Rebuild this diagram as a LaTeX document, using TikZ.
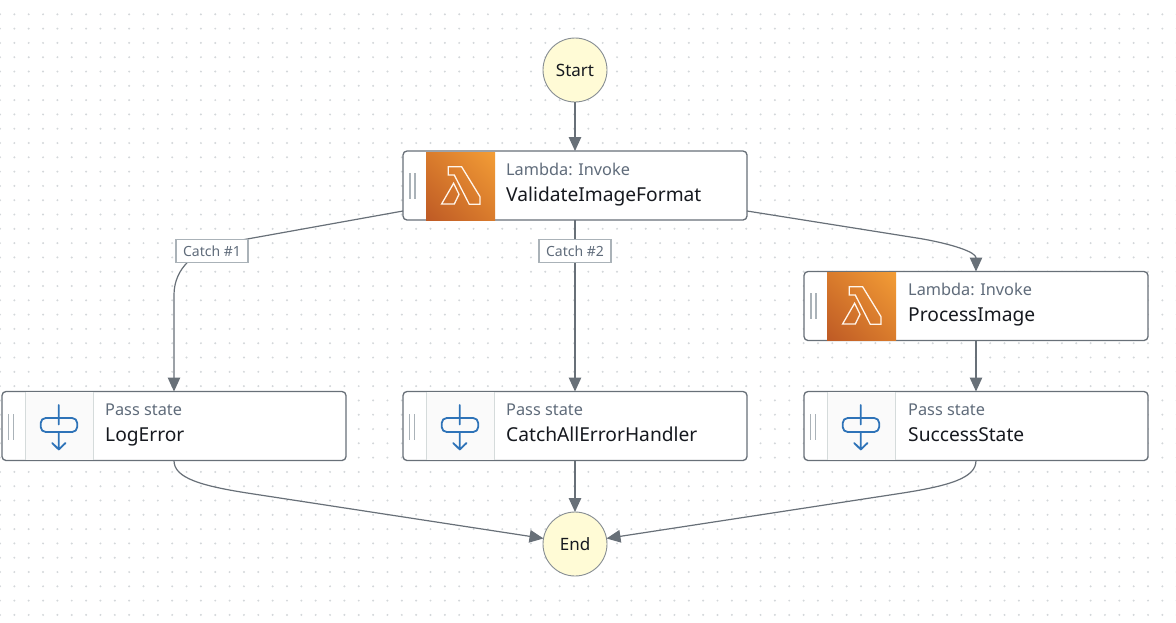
\documentclass[tikz,border=0pt]{standalone}
\usepackage{fontspec}
\setmainfont{Noto Sans}
\usetikzlibrary{arrows.meta,shadings}
\definecolor{edgegrey}{HTML}{687078}
\definecolor{dotgrey}{HTML}{D3D7DA}
\definecolor{barcol}{HTML}{AAB2B8}
\definecolor{startfill}{HTML}{FFFBD6}
\definecolor{subtxt}{HTML}{5F6B7A}
\definecolor{maintxt}{HTML}{16191F}
\definecolor{tileline}{HTML}{D5DBDB}
\definecolor{tilefill}{HTML}{FAFAFA}
\definecolor{passblue}{HTML}{2E73B8}
\definecolor{lamdark}{HTML}{BE5A25}
\definecolor{lamlight}{HTML}{F39D36}
\definecolor{lammid}{HTML}{D97B2C}
\tikzset{
  statebox/.style={draw=edgegrey,line width=1.3pt,rounded corners=4pt,fill=white,minimum width=344pt,minimum height=69pt,inner sep=0pt,outer sep=0pt},
  terminal/.style={circle,draw=edgegrey!80,line width=0.9pt,fill=startfill,minimum size=64pt,inner sep=0pt,outer sep=0pt,font=\fontsize{17}{19}\selectfont,text=maintxt},
  flow/.style={draw=edgegrey,line width=1.2pt,-{Triangle[length=14pt,width=12.5pt]}},
  catchlabel/.style={draw=barcol,line width=1.5pt,fill=white,minimum width=72pt,minimum height=23pt,inner sep=0pt,outer sep=0pt,font=\fontsize{14}{16}\selectfont,text=subtxt},
  subtext/.style={anchor=base west,inner sep=0pt,font=\fontsize{16.3}{18}\selectfont,text=subtxt},
  maintext/.style={anchor=base west,inner sep=0pt,font=\fontsize{19.2}{21}\selectfont,text=maintxt},
  handlebar/.style={draw=barcol,line width=1.3pt},
  lamicon/.style={draw=white!92!orange,line width=1.3pt,line join=miter},
  passicon/.style={draw=passblue,line width=1.8pt,line cap=round,line join=round}
}
\newcommand{\lambdatile}[2]{% left edge of box, top edge of box
  \begin{scope}[shift={(#1,#2)}]
    \draw[handlebar] (7,22)--(7,48) (12,22)--(12,48);
    \shade[lower left=lamdark,upper right=lamlight,upper left=lammid,lower right=lammid] (23,1) rectangle (92,69);
    \draw[lamicon] (45.3,15.7)--(58.6,15.7)--(77,45.7)--(77,53.3)--(66.3,53.3)--(51.3,24)--(45.3,24)--cycle;
    \draw[lamicon] (38.6,53)--(50.6,32.3)--(56,43.3)--(51.3,53)--cycle;
  \end{scope}}
\newcommand{\passtile}[2]{%
  \begin{scope}[shift={(#1,#2)}]
    \draw[handlebar] (6.5,23)--(6.5,49) (11.5,23)--(11.5,49);
    \fill[tilefill] (23,1) rectangle (91,69);
    \draw[tileline,line width=1pt] (23,1)--(23,69) (91,1)--(91,69);
    \draw[passicon,rounded corners=5pt] (38.7,27) rectangle (75.2,41);
    \draw[passicon] (56.8,14)--(56.8,33.5) (56.8,41)--(56.8,58.5) (50.2,52)--(56.8,58.5)--(63.5,52);
  \end{scope}}
\begin{document}
\begin{tikzpicture}[x=1pt,y=-1pt]
\useasboundingbox (0,0) rectangle (1176,622);
\fill[white] (0,0) rectangle (1176,622);
\foreach \i in {0,...,82}{\foreach \j in {1,...,43}{\fill[dotgrey] ({\i*14.35},{\j*14.3}) circle (1.1pt);}}

\node[terminal] (start) at (575,70) {Start};
\node[terminal] (end) at (575,544) {End};
\node[statebox] (val) at (575,185.5) {};
\node[statebox] (proc) at (976,306) {};
\node[statebox] (log) at (174,426) {};
\node[statebox] (catchall) at (575,426) {};
\node[statebox] (succ) at (976,426) {};

\lambdatile{403}{151}
\lambdatile{804}{271}
\passtile{2}{391}
\passtile{403}{391}
\passtile{804}{391}

\node[subtext] (t1a) at (506,175.4) {Lambda: Invoke};
\node[maintext] (t1b) at (506,201.8) {ValidateImageFormat};
\node[subtext] (t2a) at (908,295.4) {Lambda: Invoke};
\node[maintext] (t2b) at (908,321.8) {ProcessImage};
\node[subtext] (t3a) at (105,415.4) {Pass state};
\node[maintext] (t3b) at (105,441.8) {LogError};
\node[subtext] (t4a) at (506,415.4) {Pass state};
\node[maintext] (t4b) at (506,441.8) {CatchAllErrorHandler};
\node[subtext] (t5a) at (908,415.4) {Pass state};
\node[maintext] (t5b) at (908,441.8) {SuccessState};

\coordinate (valL) at (403,211);
\coordinate (valR) at (747,211);

\draw[flow] (start) -- (val.north);
\draw[flow] (valL) -- (225,243) .. controls (195,250) and (174,268) .. (174,295) -- (log.north);
\draw[flow] (val.south) -- (catchall.north);
\draw[flow] (valR) -- (920,238.5) .. controls (952,244) and (976,252) .. (proc.north);
\draw[flow] (proc.south) -- (succ.north);
\draw[flow] (catchall.south) -- (end.north);
\draw[flow] (log.south) .. controls (174,478) and (200,486) .. (255,494.2) -- (end.170);
\draw[flow] (succ.south) .. controls (976,478) and (950,486) .. (895,494.2) -- (end.10);

\node[catchlabel] (c1) at (212,251) {Catch \#1};
\node[catchlabel] (c2) at (575,251) {Catch \#2};
\end{tikzpicture}
\end{document}
